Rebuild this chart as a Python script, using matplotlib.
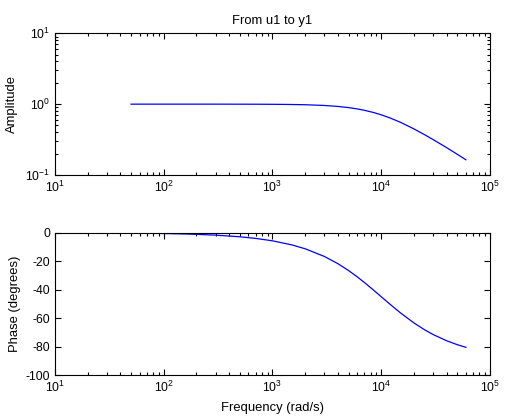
import numpy as np
import matplotlib
matplotlib.use("Agg")
import matplotlib.pyplot as plt
from matplotlib.ticker import LogLocator, FixedLocator, NullFormatter

plt.rcParams['font.family'] = ['Liberation Sans', 'DejaVu Sans']
plt.rcParams['mathtext.default'] = 'regular'
plt.rcParams['axes.unicode_minus'] = False

# Data
freq = [50, 70, 100, 150, 200, 300, 500, 700, 1000, 1500, 2000, 3000, 4000,
        5000, 6000, 7000, 8500, 10000, 12000, 15000, 20000, 25000, 30000,
        40000, 50000, 60000]
amplitude = [1.0, 1.0, 1.0, 1.0, 1.0, 1.0, 0.9988, 0.9976, 0.995, 0.989,
             0.981, 0.958, 0.928, 0.894, 0.857, 0.819, 0.762, 0.707, 0.640,
             0.555, 0.447, 0.371, 0.316, 0.243, 0.196, 0.164]
phase = [-0.29, -0.40, -0.57, -0.86, -1.15, -1.72, -2.86, -4.00, -5.71,
         -8.53, -11.31, -16.70, -21.80, -26.57, -30.96, -34.99, -40.36,
         -45.0, -50.19, -56.31, -63.43, -68.20, -71.57, -75.96, -78.69,
         -80.54]
phase_ticks = [0, -20, -40, -60, -80, -100]

fig = plt.figure(figsize=(5.15, 4.2), dpi=100)
fig.patch.set_facecolor('white')

ax1 = fig.add_axes([55/515, 1-175/420, 435/515, 141.7/420])
ax2 = fig.add_axes([55/515, 1-375/420, 435/515, 142.3/420])

fs = 8.8
lfs = 9.4
for ax in (ax1, ax2):
    ax.set_xscale('log')
    ax.set_xlim(10, 1e5)
    ax.xaxis.set_major_locator(LogLocator(base=10, numticks=10))
    ax.xaxis.set_minor_locator(LogLocator(base=10, subs=np.arange(2, 10), numticks=10))
    ax.xaxis.set_minor_formatter(NullFormatter())
    ax.tick_params(which='both', direction='in', top=True, right=True,
                   labelsize=fs, width=0.8, colors='black')
    ax.tick_params(which='major', length=4)
    ax.tick_params(which='minor', length=2.5)
    for s in ax.spines.values():
        s.set_linewidth(0.8)
        s.set_color('black')

ax1.plot(freq, amplitude, color='#0000ff', lw=0.9)
ax1.set_yscale('log')
ax1.set_ylim(0.1, 10)
ax1.yaxis.set_major_locator(LogLocator(base=10, numticks=10))
ax1.yaxis.set_minor_locator(LogLocator(base=10, subs=np.arange(2, 10), numticks=10))
ax1.yaxis.set_minor_formatter(NullFormatter())
ax1.set_ylabel('Amplitude', fontsize=lfs, labelpad=5)
ax1.set_title('From u1 to y1', fontsize=lfs, pad=7)

ax2.plot(freq, phase, color='#0000ff', lw=0.9)
ax2.set_ylim(-100, 0)
ax2.yaxis.set_major_locator(FixedLocator(phase_ticks))
ax2.set_ylabel('Phase (degrees)', fontsize=lfs, labelpad=3)
ax2.set_xlabel('Frequency (rad/s)', fontsize=lfs, labelpad=5)

fig.savefig('out.png', dpi=100, facecolor='white')
